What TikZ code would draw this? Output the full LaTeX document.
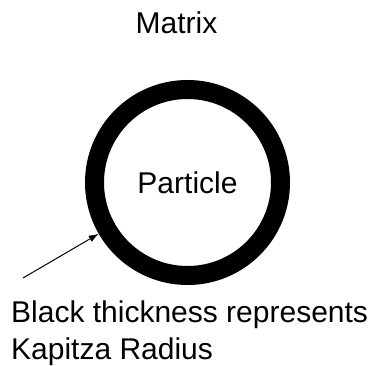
\documentclass[tikz,border=0pt]{standalone}
\usepackage{fontspec}
\setmainfont{Liberation Sans}
\usetikzlibrary{arrows.meta,positioning}

\begin{document}
\begin{tikzpicture}[x=1pt,y=1pt,
  bigtext/.style={font=\fontsize{30}{37}\selectfont,inner sep=0pt},
  shell/.style={circle,draw=black,line width=19.000000pt,minimum size=186.000000pt,bigtext},
  pointer/.style={-{Latex[length=10pt,width=7pt]},line width=1.000000pt}]
\useasboundingbox (0.000000,0.000000) rectangle (377.000000,365.000000);
% Labels
\node[bigtext,anchor=base] (matrix) at (176.500000,331.000000) {Matrix};
% Particle with its Kapitza layer
\node[shell] (particle) at (187.500000,182.500000) {Particle};
% Explanation and arrow (base of a two-line node is its last line)
\node[bigtext,anchor=base west,align=left] (note) at (11.000000,6.000000) {Black thickness represents\\Kapitza Radius};
\coordinate (tail) at (23.000000,87.000000);
\draw[pointer] (tail) -- (particle.210);
\end{tikzpicture}
\end{document}
